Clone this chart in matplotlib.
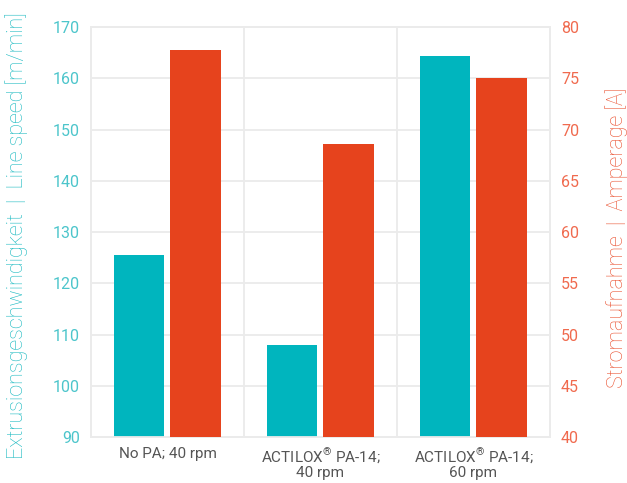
import numpy as np
import matplotlib.pyplot as plt

plt.rcParams['font.family'] = ['Roboto', 'DejaVu Sans']
plt.rcParams['mathtext.fontset'] = 'custom'
plt.rcParams['mathtext.rm'] = 'Roboto'

# Data
categories = ["No PA; 40 rpm", "ACTILOX$^{\\mathrm{®}}$ PA-14;\n40 rpm",
              "ACTILOX$^{\\mathrm{®}}$ PA-14;\n60 rpm"]
line_speed = [125.5, 108, 164.3]     # m/min, left axis
amperage = [77.8, 68.6, 75.0]        # A, right axis

teal = "#00B5BE"
orange = "#E6431D"
grid_col = "#EBEBEB"

fig = plt.figure(figsize=(6.27, 4.83), dpi=100)
ax = fig.add_axes([0.1451, 0.0952, 0.7320, 0.8489])
ax2 = ax.twinx()

x = np.arange(len(categories))
w = 0.333
off = 0.186
ax.bar(x - off, line_speed, width=w, color=teal, zorder=3)
ax2.bar(x + off, amperage, width=w, color=orange, zorder=3)

ax.set_xlim(-0.5, 2.5)
ax.set_ylim(90, 170)
ax2.set_ylim(40, 80)
ax.set_yticks(np.arange(90, 171, 10))
ax2.set_yticks(np.arange(40, 81, 5))

# grid lines and category separators (on the lower axes, behind all bars)
for yv in np.arange(100, 170, 10):
    ax.axhline(yv, color=grid_col, lw=1.3, zorder=0)
for xv in [0.5, 1.5]:
    ax.axvline(xv, color=grid_col, lw=1.3, zorder=0)

ax.set_xticks(x)
ax.set_xticklabels(categories, fontsize=11, color="#555555", linespacing=1.0)
ax.tick_params(axis="x", length=0, pad=7)
ax.tick_params(axis="y", length=0, pad=8, labelsize=11.5, labelcolor="#4CC5CB")
ax2.tick_params(axis="y", length=0, pad=8, labelsize=11.5, labelcolor="#F06A4E")

for a in (ax, ax2):
    for s in a.spines.values():
        s.set_color(grid_col)
        s.set_linewidth(1.3)

ax.set_ylabel("Extrusionsgeschwindigkeit  |  Line speed [m/min]", fontsize=15.5,
              color="#1CBAC1", fontweight="light")
ax2.set_ylabel("Stromaufnahme  |  Amperage [A]", fontsize=15.5,
               color="#EA5130", fontweight="light")
ax.yaxis.set_label_coords(-0.137, 0.49)
ax2.yaxis.set_label_coords(1.12, 0.487)

fig.savefig("out.png", dpi=100)
